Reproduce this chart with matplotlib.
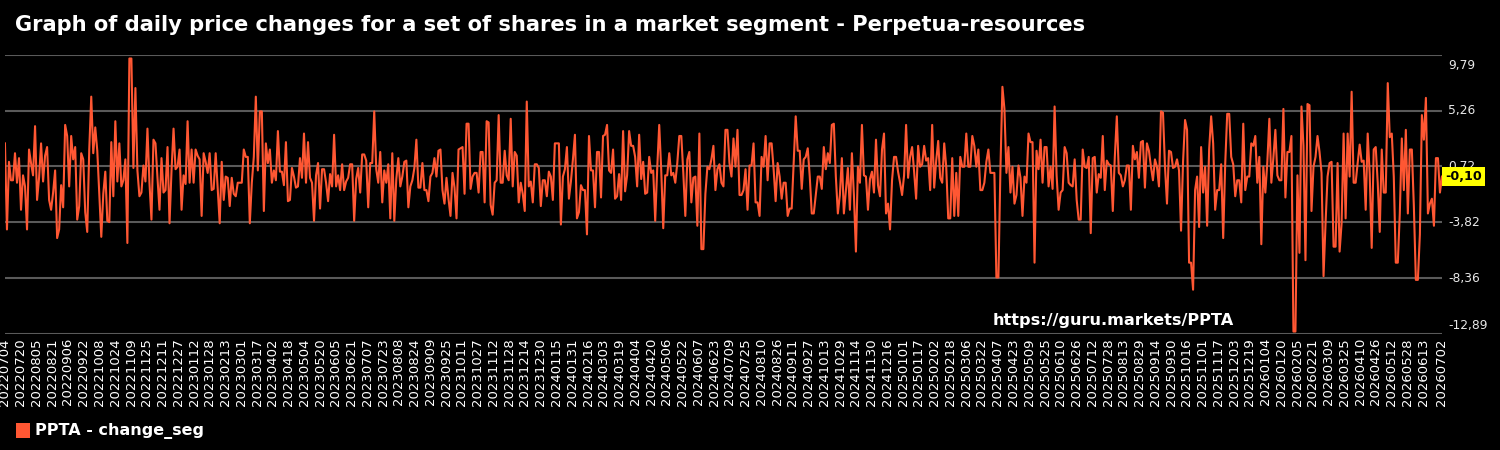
import numpy as np
import pandas as pd
import matplotlib
matplotlib.use("Agg")
import matplotlib.pyplot as plt
from matplotlib.transforms import offset_copy

# daily price change (%), roughly every second day
values = [
    # 2022-07 .. 2022-10
    2.6, -4.4, 1.1, -0.4, -0.4, 1.8, -0.6, 1.4, -2.8, 0.0, -0.9, -4.4, 2.1, 1.0, 0.0, 4.0, -2.0, -0.2, 2.6, -0.5,
    1.6, 2.3, -2.0, -2.8, -1.4, 0.4, -5.1, -4.4, -0.8, -2.6, 4.1, 3.2, -0.9, 3.2, 1.3, 2.3, -3.6, -2.5, 1.8, 1.3,
    -3.0, -4.6, 2.1, 6.4, 1.8, 3.9, 2.0, -1.5, -5.0, -1.5, 0.3, -3.7, -3.8, 2.7, -1.7, 4.4, -0.5, 2.6,
    # 2022-10 .. 2023-02
    -0.9, -0.4, 1.3, -5.5, 9.5, 9.5, 0.6, 7.1, 0.4, -1.7, -1.4, 0.8, -0.5, 3.8, -0.6, -3.6, 2.9, 2.6, -0.2, -2.8,
    1.4, -1.4, -1.2, 2.3, -3.9, 0.4, 3.8, 0.5, 0.7, 2.1, -2.8, 0.0, -0.7, 4.4, -0.6, 2.1, -0.6, 2.1, 1.6, 1.3,
    -3.3, 1.8, 1.1, 0.2, 1.8, -1.2, -1.1, 1.8, -1.0, -3.9, 1.1, -2.0, -0.1, -0.2, -2.5, -0.2, -1.5, -1.7, -0.6, -0.6,
    # 2023-02 .. 2023-06
    -0.6, 2.1, 1.5, 1.5, -3.9, -0.6, 1.5, 6.4, 0.4, 5.2, 5.2, -2.9, 2.6, 1.0, 2.1, -0.6, 0.4, -0.4, 3.6, 0.3,
    0.3, -0.8, 2.7, -2.1, -2.0, 0.6, -0.1, -1.0, -0.9, 1.4, -0.2, 3.4, -0.6, 2.7, -0.2, -0.6, -3.7, 0.0, 1.0, -2.7,
    0.5, 0.5, -0.6, -2.1, 0.1, -0.9, 3.3, -0.9, 0.0, -1.2, 0.9, -1.2, -0.5, -0.2, 0.9, 0.9, -3.7, -0.3, 0.6, -1.4,
    # 2023-06 .. 2023-10
    1.7, 1.7, 1.2, -2.6, 1.0, 1.0, 5.2, 0.5, -0.6, 1.9, -2.2, 0.4, -0.6, 0.9, -3.5, 1.8, -3.7, -0.3, 1.4, -0.9,
    -0.1, 1.1, 1.2, -2.6, -0.9, -0.4, 0.6, 2.9, -1.0, -1.0, 1.0, -1.2, -1.2, -2.1, -0.1, 0.2, 1.4, -0.1, 2.0, 2.1,
    -1.2, -2.3, -0.2, -1.9, -3.3, 0.2, -1.0, -3.5, 2.1, 2.2, 2.3, -1.5, 4.2, 4.2, -1.1, -0.1, 0.2, 0.2, -1.4, 1.9,
    # 2023-10 .. 2024-02
    1.9, -2.2, 4.4, 4.3, -2.4, -3.2, -0.6, -0.4, 4.9, -0.6, -0.6, 2.0, 0.0, -0.4, 4.6, -0.9, 1.9, 1.6, -2.2, -0.6,
    -1.5, -2.9, 6.0, -0.9, -0.5, -2.2, 0.9, 0.9, 0.6, -2.5, -0.4, -0.4, -1.7, 0.3, -0.1, -2.0, 2.6, 2.6, 2.6, -4.0,
    -0.1, 0.5, 2.3, -1.9, -0.5, 1.3, 3.3, -3.5, -3.0, -0.8, -1.2, -1.2, -4.8, 3.2, 0.4, 0.4, -2.6, 1.9, 1.9, -1.8,
    # 2024-02 .. 2024-06
    3.2, 3.3, 4.1, 0.4, 0.2, 2.1, -1.9, -1.7, 0.1, -2.0, 3.6, -1.3, 0.0, 3.6, 2.4, 2.4, 1.5, -0.9, 3.3, -0.3,
    1.1, -1.5, -1.4, 1.5, 0.2, 0.4, -3.7, 0.6, 4.1, 0.4, -4.3, 0.0, 0.0, 1.8, 0.0, 0.2, -0.6, 1.0, 3.2, 3.2,
    0.2, -3.3, 1.3, 1.9, -2.2, -0.2, -0.1, -4.1, 3.4, -6.0, -6.0, -1.5, 0.7, 0.5, 1.3, 2.4, -1.2, 0.5, 0.9, -0.6,
    # 2024-06 .. 2024-10
    -0.9, 3.7, 3.7, 1.0, -0.1, 3.0, 0.7, 3.7, -1.6, -1.6, -1.2, 0.5, -2.8, 0.8, 0.8, 2.6, -2.2, -2.2, -3.3, 1.5,
    0.7, 3.2, -0.4, 2.6, 2.6, 0.5, -2.1, 1.0, -0.1, -1.9, -0.6, -0.6, -3.3, -2.7, -2.7, 1.0, 4.8, 2.0, 2.0, -1.1,
    1.3, 1.5, 2.2, -0.1, -3.1, -3.1, -1.6, -0.1, -0.1, -1.1, 2.3, 0.5, 1.8, 1.0, 4.1, 4.2, -0.1, -3.1, -1.6, 1.4,
    # 2024-10 .. 2025-02
    -3.1, -1.3, 0.6, -2.8, 1.8, -1.6, -6.2, 0.7, -0.6, 4.1, 0.0, -0.1, -2.8, -0.3, 0.3, -1.4, 2.9, -0.8, -1.7, 2.1,
    3.4, -3.1, -2.3, -4.4, -0.4, 1.5, 1.5, 0.3, -0.6, -1.6, 0.0, 4.1, -0.2, 1.5, 2.3, 0.3, -1.9, 2.4, 0.7, 0.9,
    2.4, 1.2, 1.4, -1.2, 4.1, -1.0, 1.2, 2.8, -0.2, -0.6, 2.6, 0.7, -3.5, -3.5, 1.4, -3.3, 0.2, -3.3, 1.5, 0.7,
    # 2025-02 .. 2025-06
    0.7, 3.4, 0.7, 0.7, 3.2, 2.4, 0.7, 2.1, -1.2, -1.2, -0.6, 1.1, 2.1, 0.2, 0.2, 0.2, -8.3, -8.3, 0.5, 7.2,
    5.4, 0.2, 2.3, -1.4, 0.7, -2.3, -1.6, 0.8, -0.2, -3.3, -0.1, -0.6, 3.4, 2.7, 2.7, -7.1, 2.0, 0.5, 2.9, -0.6,
    2.3, 2.3, -0.9, 0.7, -1.1, 5.6, 0.0, -2.8, -1.4, -1.2, 2.3, 1.8, -0.6, -0.8, -0.9, 1.3, -2.0, -3.6, -3.6, 2.1,
    # 2025-06 .. 2025-10
    0.7, 0.6, 1.5, -4.7, 1.4, 1.5, -1.4, 0.1, -0.2, 3.2, -1.2, 1.2, 0.9, 0.8, -2.9, 1.5, 4.8, 0.2, 0.0, -0.9,
    -0.4, 0.8, 0.8, -2.8, 2.4, 1.3, 1.9, -0.2, 2.7, 2.8, -1.0, 2.6, 2.0, 0.7, -0.4, 1.3, 0.7, -0.9, 5.2, 5.1,
    0.7, -2.3, 2.0, 1.9, 0.6, 0.7, 1.3, 0.4, -4.5, 1.1, 4.5, 3.7, -7.1, -7.1, -9.3, -1.2, -0.1, -4.2, 2.3, -1.4,
    # 2025-10 .. 2026-02
    0.7, -4.1, 2.1, 4.8, 2.6, -2.8, -1.2, -1.2, 0.9, -5.1, 0.9, 5.0, 5.0, 1.5, 0.9, -1.7, -0.4, -0.4, -2.2, 4.2,
    -1.2, -0.1, -0.1, 2.6, 2.4, 3.2, -0.6, 1.5, -5.6, 0.7, -1.4, 1.1, 4.6, -0.6, 1.4, 3.7, 0.0, -0.4, -0.4, 5.4,
    -1.8, 1.9, 1.9, 3.2, -12.7, -12.7, 0.0, -6.3, 5.6, 2.4, -6.9, 5.8, 5.7, -2.9, 0.7, 1.5, 3.2, 1.9, 0.2, -8.2,
    # 2026-02 .. 2026-07
    -3.9, -0.1, 1.0, 1.1, -5.8, -5.8, 1.0, -6.2, -3.9, 3.4, -3.5, 3.4, -0.1, 6.8, -0.6, -0.6, 1.0, 2.5, 1.1, 1.2,
    -2.8, 3.4, 0.1, -5.9, 2.1, 2.3, -0.6, -4.6, 2.1, -1.4, -1.4, 7.5, 3.1, 3.4, -0.1, -7.1, -7.1, -3.1, 3.0, -1.2,
    3.7, -3.1, 2.1, 2.1, -2.5, -8.5, -8.5, -4.8, 4.9, 2.9, 6.3, -3.1, -2.3, -1.9, -4.1, 1.4, 1.4, -1.4, -0.1,
]

start_date = "2022-07-04"
end_date = "2026-07-02"
ticker = "PPTA"
y_min, y_max = -12.893, 9.794
title = "Graph of daily price changes for a set of shares in a market segment - Perpetua-resources"

dates = pd.date_range(start_date, end_date, periods=len(values))
tick_dates = list(pd.date_range(start_date, end_date, freq="16D"))
if (pd.Timestamp(end_date) - tick_dates[-1]).days < 8:
    tick_dates = tick_dates[:-1]
tick_dates.append(pd.Timestamp(end_date))

line_color = "#ff5733"

fig = plt.figure(figsize=(15, 4.5), dpi=100, facecolor="black")
ax = fig.add_axes([0.0033, 0.258, 0.958, 0.62])
ax.set_facecolor("black")

ax.plot(dates, values, color=line_color, linewidth=1.5, zorder=3)

ax.set_xlim(dates[0], dates[-1])
ax.set_ylim(y_min, y_max)

# y ticks on the right, evenly spaced between min and max
yticks = np.linspace(y_min, y_max, 6)
ax.set_yticks(yticks)
ax.set_yticklabels([])
ax.yaxis.tick_right()
ax.tick_params(axis="y", length=0)
for i, v in enumerate(yticks):
    ax.axhline(v, color="#5a5a5a", linewidth=1.5, zorder=1)
    va, dy = "center", 0
    if i == 0:
        va, dy = "bottom", 2
    elif i == len(yticks) - 1:
        va, dy = "top", -4
    tr = offset_copy(ax.get_yaxis_transform(), fig=fig, x=6, y=dy, units="dots")
    ax.text(1.0, v, f"{v:.2f}".replace(".", ","), transform=tr, ha="left", va=va,
            fontsize=8.8, color="#e8e8e8", zorder=2)

ax.set_xticks(tick_dates)
ax.set_xticklabels([d.strftime("%Y%m%d") for d in tick_dates], rotation=90)
ax.tick_params(axis="x", length=0, pad=3, labelsize=9.5, labelcolor="white")

for s in ax.spines.values():
    s.set_visible(False)

# last value marker
last = values[-1]
ax.annotate(f"{last:.2f}".replace(".", ","), xy=(1.0, last), xycoords=("axes fraction", "data"),
            xytext=(2.5, 0), textcoords="offset points", va="center", ha="left",
            fontsize=9.2, fontweight="bold", color="black",
            bbox=dict(boxstyle="square,pad=0.25", facecolor="#ffff00", edgecolor="none"), zorder=5)

ax.text(0.855, 0.022, f"https://guru.markets/{ticker}", transform=ax.transAxes,
        ha="right", va="bottom", color="white", fontsize=11.6, fontweight="bold")

fig.text(0.01, 0.945, title, color="white", fontsize=15.1, fontweight="bold", ha="left", va="center")

# legend
fig.patches.append(plt.Rectangle((0.0105, 0.027), 0.0095, 0.033, transform=fig.transFigure,
                                 facecolor=line_color, edgecolor="none"))
fig.text(0.0235, 0.043, f"{ticker} - change_seg", color="white", fontsize=11.5,
         fontweight="bold", ha="left", va="center")

fig.savefig("out.png", dpi=100, facecolor="black")
